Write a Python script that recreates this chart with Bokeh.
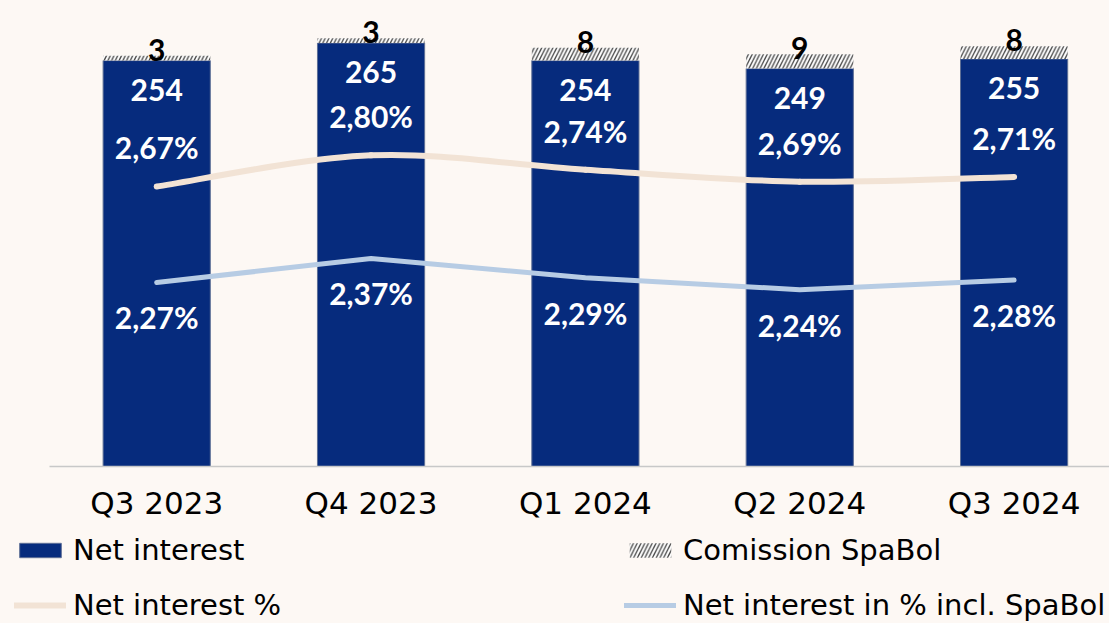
import numpy as np
from bokeh.plotting import figure
from bokeh.layouts import column
from bokeh.models import Range1d, FixedTicker, Legend, LegendItem, ColumnDataSource
from bokeh.core.properties import value
from bokeh.embed import file_html
from bokeh.resources import INLINE

# ---- data ----
quarters = ["Q3 2023", "Q4 2023", "Q1 2024", "Q2 2024", "Q3 2024"]
net_interest = [254, 265, 254, 249, 255]
commission_spabol = [3, 3, 8, 9, 8]
net_interest_pct = [2.67, 2.80, 2.74, 2.69, 2.71]
net_interest_incl_pct = [2.27, 2.37, 2.29, 2.24, 2.28]

# ---- styles ----
BG = "#FDF8F4"
NAVY = "#062B7D"
BEIGE = "#F2E3D5"
LIGHTBLUE = "#B7CCE4"
LABEL_FONT = value("Lato")
TEXT_FONT = "DejaVu Sans"

x = np.arange(len(quarters))
totals = [n + c for n, c in zip(net_interest, commission_spabol)]


def pct(v):
    return f"{v:.2f}%".replace(".", ",")


bar_style = dict(fill_color=NAVY, line_color="#5E6F96", line_width=1)
hatch_style = dict(fill_color="white", line_color=None, hatch_pattern="/",
                   hatch_color="#444444", hatch_scale=7.5, hatch_weight=1.3)
beige_style = dict(line_color=BEIGE, line_width=6, line_cap="round")
blue_style = dict(line_color=LIGHTBLUE, line_width=5, line_cap="round", line_join="round")

p = figure(width=1109, height=530, output_backend="svg", toolbar_location=None,
           x_range=Range1d(-0.7287, 4.445), y_range=Range1d(0, 291.6),
           y_axis_location=None, min_border_left=0, min_border_right=0,
           min_border_top=0, min_border_bottom=64,
           background_fill_color=BG, border_fill_color=BG, outline_line_color=None)
p.extra_y_ranges = {"pct": Range1d(1.50333, 3.445)}
p.grid.visible = False

src = ColumnDataSource(dict(x=x, net=net_interest, total=totals))
p.vbar(x="x", top="net", bottom=0, width=0.5, source=src, **bar_style)
p.vbar(x="x", bottom="net", top="total", width=0.5, source=src, **hatch_style)

# smooth line (cubic bezier segments through the data points)
n = len(x)
pts = [(float(a), float(b)) for a, b in zip(x, net_interest_pct)]
bz = dict(x0=[], y0=[], x1=[], y1=[], cx0=[], cy0=[], cx1=[], cy1=[])
for i in range(n - 1):
    pm, p0, p1, p2 = pts[max(i - 1, 0)], pts[i], pts[i + 1], pts[min(i + 2, n - 1)]
    bz["x0"].append(p0[0]); bz["y0"].append(p0[1])
    bz["x1"].append(p1[0]); bz["y1"].append(p1[1])
    bz["cx0"].append(p0[0] + (p1[0] - pm[0]) / 6); bz["cy0"].append(p0[1] + (p1[1] - pm[1]) / 6)
    bz["cx1"].append(p1[0] - (p2[0] - p0[0]) / 6); bz["cy1"].append(p1[1] - (p2[1] - p0[1]) / 6)
p.bezier(source=ColumnDataSource(bz), x0="x0", y0="y0", x1="x1", y1="y1",
         cx0="cx0", cy0="cy0", cx1="cx1", cy1="cy1", y_range_name="pct", **beige_style)

p.line(x=x, y=net_interest_incl_pct, y_range_name="pct", **blue_style)

common = dict(text_align="center", text_baseline="middle", text_font=LABEL_FONT,
              text_font_style="bold", text_font_size="30px")
p.text(x=x, y=net_interest, text=[str(v) for v in net_interest], y_offset=29,
       text_color="white", **common)
p.text(x=x, y=totals, text=[str(v) for v in commission_spabol], y_offset=-6,
       text_color="black", **common)
p.text(x=x, y=net_interest_pct, text=[pct(v) for v in net_interest_pct], y_offset=-39,
       text_color="white", y_range_name="pct", **common)
p.text(x=x, y=net_interest_incl_pct, text=[pct(v) for v in net_interest_incl_pct], y_offset=35,
       text_color="white", y_range_name="pct", **common)

ax = p.xaxis[0]
ax.ticker = FixedTicker(ticks=[int(i) for i in x])
ax.major_label_overrides = {int(i): q for i, q in zip(x, quarters)}
ax.bounds = (-0.5, 4.445)
ax.axis_line_color = "#C8C8C8"
ax.axis_line_width = 1.5
ax.major_tick_line_color = None
ax.minor_tick_line_color = None
ax.major_label_text_font = TEXT_FONT
ax.major_label_text_font_size = "31px"
ax.major_label_text_color = "black"
ax.major_label_standoff = 12

# ---- legend strip (hidden copies of the series supply the legend swatches) ----
lg = figure(width=1109, height=93, output_backend="svg", toolbar_location=None,
            x_range=Range1d(-0.5, 4.5), y_range=Range1d(0, 300),
            x_axis_location=None, y_axis_location=None,
            min_border_left=0, min_border_right=0, min_border_top=0, min_border_bottom=0,
            background_fill_color=BG, border_fill_color=BG, outline_line_color=None)
lg.grid.visible = False
r_bar = lg.vbar(x=x, top=net_interest, width=0.5, visible=False, **bar_style)
r_hatch = lg.vbar(x=x, bottom=net_interest, top=totals, width=0.5, visible=False, **hatch_style)
r_beige = lg.line(x=x, y=net_interest_pct, visible=False, **beige_style)
r_blue = lg.line(x=x, y=net_interest_incl_pct, visible=False, **blue_style)

leg_style = dict(orientation="vertical", glyph_width=52, glyph_height=18, label_standoff=7,
                 spacing=21, padding=0, margin=0, border_line_alpha=0,
                 background_fill_alpha=0, inactive_fill_alpha=0,
                 label_text_font=TEXT_FONT,
                 label_text_font_size="29px", label_text_color="black")
leg1 = Legend(items=[LegendItem(label="Net interest", renderers=[r_bar]),
                     LegendItem(label="Net interest %", renderers=[r_beige])],
              location=(14, 1), **leg_style)
leg2 = Legend(items=[LegendItem(label="Comission SpaBol", renderers=[r_hatch]),
                     LegendItem(label="Net interest in % incl. SpaBol", renderers=[r_blue])],
              location=(624, 1), **leg_style)
lg.add_layout(leg1, "center")
lg.add_layout(leg2, "center")

layout = column(p, lg, spacing=0)
html = file_html(layout, INLINE)
html = html.replace("</head>", "<style>body{background:" + BG + ";}</style></head>", 1)
open("out.html", "w").write(html)
